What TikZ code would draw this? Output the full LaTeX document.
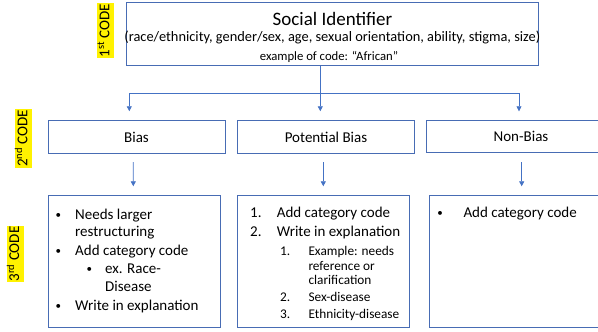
\documentclass[tikz,border=0pt]{standalone}
\usepackage{fontspec}
\setmainfont{Carlito}
\usepackage{tikz}
\usetikzlibrary{arrows.meta, calc}

\definecolor{boxblue}{RGB}{72,108,180}
\definecolor{arrowblue}{RGB}{68,114,196}

\tikzset{
    codebox/.style={draw=boxblue, line width=0.9pt, inner sep=0pt},
    flow/.style={draw=arrowblue, line width=0.7pt, -{Triangle[length=5pt,width=5pt]}},
    codetag/.style={rotate=90, fill=yellow, inner xsep=1pt, inner ysep=1.5pt, text height=11pt, text depth=3.5pt, font=\fontsize{15}{18}\selectfont},
    listtext/.style={anchor=base west, inner sep=0pt},
    listmark/.style={anchor=base, inner sep=0pt, font=\fontsize{11}{13}\selectfont, yshift=1pt},
}

\begin{document}
\begin{tikzpicture}[x=1pt, y=-1pt]
            \useasboundingbox (0,0) rectangle (598,332);
            \clip (0,0) rectangle (598,332);

            % code levels
            \node[codetag] (code1) at (105.5,30.5) {1\textsuperscript{st} CODE};
            \node[codetag] (code2) at (23.5,138.5) {2\textsuperscript{nd} CODE};
            \node[codetag] (code3) at (15.5,254) {3\textsuperscript{rd} CODE};

            % 1st code
            \node[codebox, minimum width=411.6pt, minimum height=63pt] (social) at (332.5,34.2) {};
            \node[anchor=base, inner sep=0pt, font=\fontsize{19}{22}\selectfont] (social-title) at (332.5,26) {Social Identifier};
            \node[anchor=base, inner sep=0pt, font=\fontsize{14.4}{17}\selectfont] (social-list) at (332.3,41.7) {(race/ethnicity, gender/sex, age, sexual orientation, ability, stigma, size)};
            \node[anchor=base, inner sep=0pt, font=\fontsize{12.7}{15}\selectfont] (social-eg) at (329,60.7) {example of code: “African”};

            % 2nd code
            \begin{scope}[every node/.append style={font=\fontsize{15}{18}\selectfont}]
                \node[codebox, minimum width=177pt, minimum height=32.6pt] (bias) at (136.5,137) {Bias};
                \node[codebox, minimum width=177.7pt, minimum height=32.6pt] (potential) at (326,137) {Potential Bias};
                \node[codebox, minimum width=188.6pt, minimum height=32.3pt] (nonbias) at (521,136.2) {Non-Bias};
            \end{scope}

            % 3rd code
            \node[codebox, minimum width=172.7pt, minimum height=132.3pt] (biasnotes) at (134.4,261.2) {};
            \node[codebox, minimum width=172pt, minimum height=132.3pt] (potnotes) at (323.3,261.2) {};
            \node[codebox, minimum width=186pt, minimum height=132.3pt] (nonnotes) at (522,261.2) {};

            % arrows
            \coordinate (bias-in) at ([xshift=-7.2pt,yshift=9pt]bias.north);
            \coordinate (pot-in) at ([xshift=-5.7pt,yshift=9pt]potential.north);
            \coordinate (non-in) at ([xshift=-2pt,yshift=8.3pt]nonbias.north);
            \coordinate (split) at ($(pot-in)+(0,-18.4)$);
            \draw[flow] (social.south -| split) -- (pot-in);
            \draw[flow] (split) -| (bias-in);
            \draw[flow] (split) -| (non-in);

            \draw[flow] ([xshift=-3.2pt,yshift=-8.4pt]bias.south) -- ([xshift=-1.1pt,yshift=8.3pt]biasnotes.north);
            \draw[flow] ([xshift=-2.7pt,yshift=-8.4pt]potential.south) -- ([yshift=8.3pt]potnotes.north);
            \draw[flow] ([xshift=0.7pt,yshift=-9.4pt]nonbias.south) -- ([xshift=-0.3pt,yshift=8.3pt]nonnotes.north);

            % bias notes
            \begin{scope}[every node/.append style={font=\fontsize{15}{18}\selectfont}]
                \foreach \y/\t [count=\i] in {219.3/Needs larger, 236.9/restructuring, 255.4/Add category code, 310.6/Write in explanation} {
                    \node[listtext] (bias-l\i) at (75,\y) {\t};
                }
                \foreach \y [count=\i] in {219.3, 255.4, 310.6} {
                    \node[listmark] (bias-b\i) at (58.3,\y) {\textbullet};
                }
                \foreach \y/\t [count=\i] in {273.4/ex. Race-, 291.6/Disease} {
                    \node[listtext] (bias-s\i) at (105,\y) {\t};
                }
                \node[listmark] (bias-sb) at (89.3,273.4) {\textbullet};

                % potential bias notes
                \foreach \y/\n/\t in {217.4/1/Add category code, 236.6/2/Write in explanation} {
                    \node[listtext] (pot-n\n) at (250,\y) {\n.};
                    \node[listtext] (pot-l\n) at (276.7,\y) {\t};
                }

                % non-bias notes
                \node[listmark] (non-b1) at (440,217.4) {\textbullet};
                \node[listtext] (non-l1) at (463.3,217.4) {Add category code};
            \end{scope}

            \begin{scope}[every node/.append style={font=\fontsize{13.3}{16}\selectfont}]
                \foreach \y/\n in {255/1, 301/2, 318.3/3} {
                    \node[listtext] (pot-sn\n) at (280,\y) {\n.};
                }
                \foreach \y/\t [count=\i] in {255/Example: needs, 270/reference or, 284.3/clarification, 301/Sex-disease, 318.3/Ethnicity-disease} {
                    \node[listtext] (pot-s\i) at (308.3,\y) {\t};
                }
            \end{scope}

        \end{tikzpicture}
\end{document}
